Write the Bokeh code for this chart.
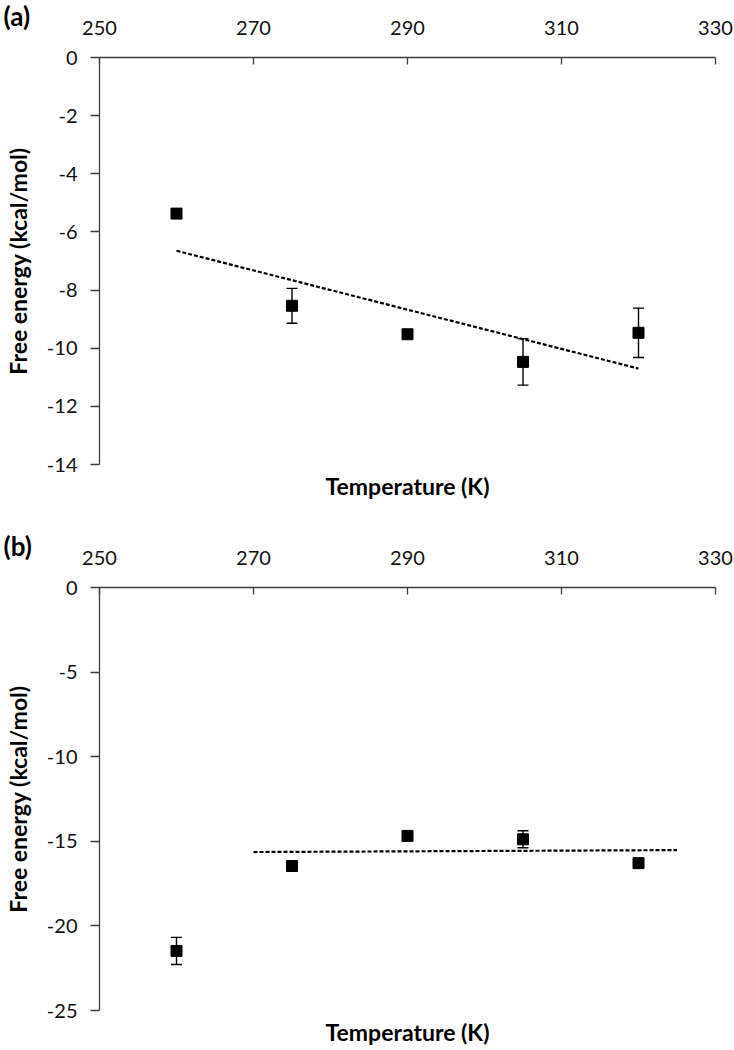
import numpy as np
from bokeh.plotting import figure
from bokeh.models import (ColumnDataSource, Whisker, TeeHead, LinearAxis,
                          FixedTicker, Range1d, CustomJSTickFormatter)
from bokeh.layouts import column
from bokeh.embed import file_html
from bokeh.resources import INLINE

# ---------------- data ----------------
temps = [260, 275, 290, 305, 320]
energy_a = [-5.37, -8.54, -9.52, -10.47, -9.47]
err_a = [0.10, 0.60, 0.10, 0.80, 0.85]
energy_b = [-21.48, -16.46, -14.68, -14.88, -16.29]
err_b = [0.80, 0.12, 0.05, 0.50, 0.05]

x_ticks = [250, 270, 290, 310, 330]
y_ticks_a = [0, -2, -4, -6, -8, -10, -12, -14]
y_ticks_b = [0, -5, -10, -15, -20, -25]

# trendline extents (Excel linear trendlines)
trend_a_span = [260, 320]
trend_b_span = [270, 325]
trend_b_points = [275, 290, 305, 320]   # points used for the fit in (b)

FONT = "Lato"
AXIS_COLOR = "#3c3c3c"
W = 734
LEFT, RIGHT = 97, 19

fmt_code = "return tick.toFixed(0)"


def make_panel(energy, err, yticks, tag, height, top, bottom, fit_x, span):
    ymin = min(yticks)
    p = figure(width=W, height=height, x_range=Range1d(250, 330),
               y_range=Range1d(ymin, 0), x_axis_location="above",
               output_backend="svg", toolbar_location=None,
               min_border_left=LEFT, min_border_right=RIGHT,
               min_border_top=top, min_border_bottom=bottom)
    p.outline_line_color = None
    p.grid.visible = False
    p.background_fill_color = "white"
    p.border_fill_color = "white"

    # panel tag as title
    p.title.text = tag
    p.title.text_font = FONT
    p.title.text_font_style = "bold"
    p.title.text_font_size = "26px"
    p.title.text_color = "black"
    p.title.align = "left"
    p.title.vertical_align = "top"
    p.title.offset = -(LEFT - 1)
    try:
        p.title.standoff = -32
    except Exception:
        pass

    # top x axis
    xa = p.xaxis[0]
    xa.ticker = FixedTicker(ticks=x_ticks, minor_ticks=[])
    xa.formatter = CustomJSTickFormatter(code=fmt_code)
    xa.major_tick_in = 7
    xa.major_tick_out = 0
    xa.major_label_standoff = 23
    xa.axis_line_color = AXIS_COLOR
    xa.major_tick_line_color = AXIS_COLOR
    xa.axis_line_width = 1.3
    xa.major_tick_line_width = 1.3
    xa.major_label_text_font = FONT
    xa.major_label_text_font_size = "20px"
    xa.major_label_text_color = "#111111"

    # left y axis
    ya = p.yaxis[0]
    ya.ticker = FixedTicker(ticks=yticks, minor_ticks=[])
    ya.formatter = CustomJSTickFormatter(code=fmt_code)
    ya.major_tick_in = 0
    ya.major_tick_out = 9
    ya.major_label_standoff = 13
    ya.axis_line_color = AXIS_COLOR
    ya.major_tick_line_color = AXIS_COLOR
    ya.axis_line_width = 1.3
    ya.major_tick_line_width = 1.3
    ya.major_label_text_font = FONT
    ya.major_label_text_font_size = "20px"
    ya.major_label_text_color = "#111111"
    ya.axis_label = "Free energy (kcal/mol)"
    ya.axis_label_text_font = FONT
    ya.axis_label_text_font_style = "bold"
    ya.axis_label_text_font_size = "23px"
    ya.axis_label_text_color = "black"
    ya.axis_label_standoff = 12

    # bottom title-only axis
    ba = LinearAxis(ticker=FixedTicker(ticks=[]), axis_line_color=None,
                    major_tick_line_color=None, minor_tick_line_color=None,
                    major_tick_out=0, major_tick_in=0, major_label_standoff=0,
                    axis_label="Temperature (K)", axis_label_standoff=7,
                    axis_label_text_font=FONT, axis_label_text_font_style="bold",
                    axis_label_text_font_size="23px", axis_label_text_color="black")
    p.add_layout(ba, "below")

    # trendline (least squares fit)
    fx = np.array([t for t in temps if t in fit_x], dtype=float)
    fy = np.array([e for t, e in zip(temps, energy) if t in fit_x], dtype=float)
    slope, icpt = np.polyfit(fx, fy, 1)
    tx = np.array(span, dtype=float)
    p.line(tx, slope * tx + icpt, line_color="black", line_width=2.2,
           line_dash="4 2")

    src = ColumnDataSource(dict(x=temps, y=energy,
                                lo=[e - d for e, d in zip(energy, err)],
                                hi=[e + d for e, d in zip(energy, err)]))
    wh = Whisker(source=src, base="x", upper="hi", lower="lo",
                 line_color="black", line_width=1.4,
                 upper_head=TeeHead(size=11, line_color="black", line_width=1.4),
                 lower_head=TeeHead(size=11, line_color="black", line_width=1.4))
    p.add_layout(wh)
    p.scatter("x", "y", source=src, marker="square", size=11,
              fill_color="black", line_color="black")
    return p


pa = make_panel(energy_a, err_a, y_ticks_a, "(a)", 502, 57, 35,
                temps, trend_a_span)
pb = make_panel(energy_b, err_b, y_ticks_b, "(b)", 546, 85, 35,
                trend_b_points, trend_b_span)

layout = column(pa, pb, spacing=0)
open("out.html", "w").write(file_html(layout, INLINE))
